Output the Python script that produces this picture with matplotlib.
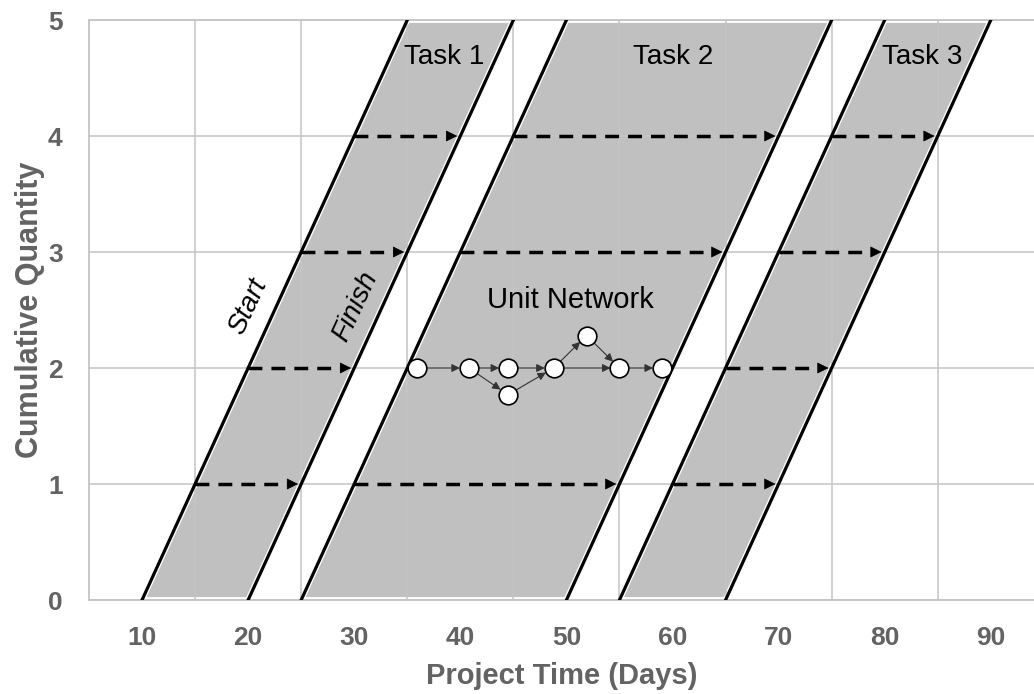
import matplotlib
matplotlib.use('Agg')
import matplotlib.pyplot as plt
from matplotlib.patches import Polygon

# --- Data ---
task_names = ['Task 1', 'Task 2', 'Task 3']
start_day_q0 = [10, 25, 55]     # start line at quantity 0
start_day_q5 = [35, 50, 80]     # start line at quantity 5
finish_day_q0 = [20, 50, 65]
finish_day_q5 = [45, 75, 90]
qty_range = [0, 5]

# dashed arrows (start -> finish of each unit)
dash_qty = [1, 2, 3, 4, 1, 3, 4, 1, 2, 3, 4]
dash_from = [15, 20, 25, 30, 30, 40, 45, 60, 65, 70, 75]
dash_to = [25, 30, 35, 40, 55, 65, 70, 70, 75, 80, 85]

# unit network of Task 2 (unit 2)
node_day = [35.9, 40.8, 44.5, 44.5, 48.8, 51.9, 55.0, 59.0]
node_qty = [2, 2, 2, 1.77, 2, 2.28, 2, 2]
node_edges = [(0, 1), (1, 2), (1, 3), (2, 4), (3, 4), (4, 5), (4, 6), (5, 6), (6, 7)]

x_ticks = [10, 20, 30, 40, 50, 60, 70, 80, 90]
x_grid = [15, 25, 35, 45, 55, 65, 75, 85]
y_ticks = [0, 1, 2, 3, 4, 5]

grey_txt = '#636363'
grid_col = '#c4c4c4'

plt.rcParams['font.family'] = ['Liberation Sans', 'DejaVu Sans']

fig = plt.figure(figsize=(10.34, 6.94), dpi=100)
ax = fig.add_axes([89 / 1034, 94 / 694, 945 / 1034, 580 / 694])
ax.set_xlim(5, 94.07)
ax.set_ylim(0, 5)

# grid
ax.set_xticks(x_ticks)
ax.set_xticks(x_grid, minor=True)
ax.set_yticks(y_ticks)
ax.grid(which='minor', axis='x', color=grid_col, lw=1.1, zorder=2)
ax.grid(which='major', axis='y', color=grid_col, lw=1.1, zorder=2)
ax.grid(which='major', axis='x', visible=False)
ax.set_axisbelow(False)
ax.tick_params(which='both', length=0)
ax.tick_params(axis='x', pad=19, labelsize=19, labelcolor=grey_txt)
ax.tick_params(axis='y', pad=19, labelsize=19, labelcolor=grey_txt)
for lab in ax.get_xticklabels() + ax.get_yticklabels():
    lab.set_fontweight('bold')
for s in ['left', 'bottom', 'top']:
    ax.spines[s].set_color(grid_col)
    ax.spines[s].set_linewidth(1.3)
ax.spines['right'].set_visible(False)

ax.set_xlabel('Project Time (Days)', fontsize=21, fontweight='bold', color=grey_txt, labelpad=8)
ax.set_ylabel('Cumulative Quantity', fontsize=22, fontweight='bold', color=grey_txt, labelpad=2)

# task bands
for i, name in enumerate(task_names):
    poly = Polygon([(start_day_q0[i], qty_range[0]), (finish_day_q0[i], qty_range[0]),
                    (finish_day_q5[i], qty_range[1]), (start_day_q5[i], qty_range[1])],
                   closed=True, facecolor='#c0c0c0', edgecolor='white', lw=4.2, zorder=1)
    ax.add_patch(poly)
    ax.plot([start_day_q0[i], start_day_q5[i]], qty_range, color='black', lw=2.3, zorder=4)
    ax.plot([finish_day_q0[i], finish_day_q5[i]], qty_range, color='black', lw=2.3, zorder=4)

# task labels
ax.text(38.5, 4.68, task_names[0], fontsize=20, ha='center', va='center', zorder=6)
ax.text(60.1, 4.68, task_names[1], fontsize=20, ha='center', va='center', zorder=6)
ax.text(83.5, 4.68, task_names[2], fontsize=20, ha='center', va='center', zorder=6)
ax.text(20.0, 2.53, 'Start', fontsize=20, style='italic', rotation=65,
        ha='center', va='center', zorder=6)
ax.text(30.1, 2.53, 'Finish', fontsize=20, style='italic', rotation=65,
        ha='center', va='center', zorder=6)

# dashed unit arrows
for q, a, b in zip(dash_qty, dash_from, dash_to):
    ax.plot([a, b - 1.0], [q, q], color='black', lw=2.5, dashes=(4, 2.6), zorder=3)
    ax.annotate('', xy=(b - 0.3, q), xytext=(b - 1.2, q),
                arrowprops=dict(arrowstyle='-|>', color='black', lw=0.5,
                                mutation_scale=18, shrinkA=0, shrinkB=0),
                zorder=3)

# unit network
for a, b in node_edges:
    ax.annotate('', xy=(node_day[b], node_qty[b]), xytext=(node_day[a], node_qty[a]),
                arrowprops=dict(arrowstyle='-|>', color='#333333', lw=0.8,
                                mutation_scale=12, shrinkA=6.5, shrinkB=6.5),
                zorder=5)
ax.scatter(node_day, node_qty, s=180, facecolor='white', edgecolor='black',
           linewidths=1.2, zorder=6)
ax.text(50.4, 2.59, 'Unit Network', fontsize=21, ha='center', va='center', zorder=6)

fig.savefig('out.png', dpi=100)
